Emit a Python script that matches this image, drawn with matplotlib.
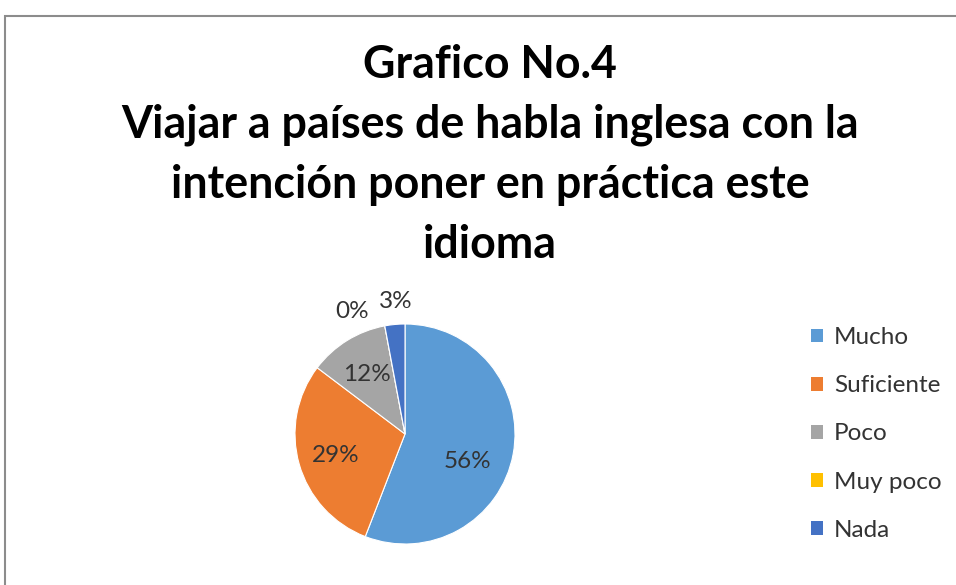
import matplotlib
matplotlib.use("Agg")
import matplotlib.pyplot as plt
from matplotlib.patches import Patch, Rectangle

plt.rcParams['font.family'] = ['Lato', 'DejaVu Sans']

# data
categories = ['Mucho', 'Suficiente', 'Poco', 'Muy poco', 'Nada']
counts = [19, 10, 4, 0, 1]
colors = ['#5B9BD5', '#ED7D31', '#A5A5A5', '#FFC000', '#4472C4']
title = 'Grafico No.4\nViajar a países de habla inglesa con la\nintención poner en práctica este\nidioma'

W, H = 956, 585
fig = plt.figure(figsize=(W / 100, H / 100), dpi=100)

# chart border (Excel chart area)
fig.patches.append(Rectangle((5 / W, -0.1), 1.2, 1 - 16 / H + 0.1,
                             transform=fig.transFigure, fill=False,
                             edgecolor='#8c8c8c', linewidth=1.5))

fig.text(490 / W, 1 - 44 / H, title, ha='center', va='top',
         fontsize=32.2, fontweight='bold', linespacing=1.52, color='#000000')

# pie
cx, cy, r = 405, 434, 110
ax = fig.add_axes([(cx - r) / W, (H - cy - r) / H, 2 * r / W, 2 * r / H])
wedges, _ = ax.pie(counts, colors=colors, startangle=90, counterclock=False,
                   wedgeprops=dict(edgecolor='white', linewidth=0.8))
ax.set_xlim(-1, 1)
ax.set_ylim(-1, 1)
ax.set_aspect('equal')
ax.axis('off')

total = sum(counts)
pcts = ['%d%%' % round(100 * c / total) for c in counts]
label_pos = [(0.57, -0.25), (-0.63, -0.2), (-0.35, 0.54), (-0.48, 1.11), (-0.08, 1.2)]
for txt, (x, y) in zip(pcts, label_pos):
    ax.text(x, y, txt, ha='center', va='center', fontsize=17.5,
            color='#333333', clip_on=False)

handles = [Patch(facecolor=c, edgecolor='none') for c in colors]
fig.legend(handles, categories, loc='center left',
           bbox_to_anchor=(789 / W, 1 - 434 / H), frameon=False,
           fontsize=17.5, labelspacing=1.12, handlelength=0.5, handleheight=0.5,
           handletextpad=0.45, labelcolor='#333333')

fig.savefig('out.png', dpi=100)
